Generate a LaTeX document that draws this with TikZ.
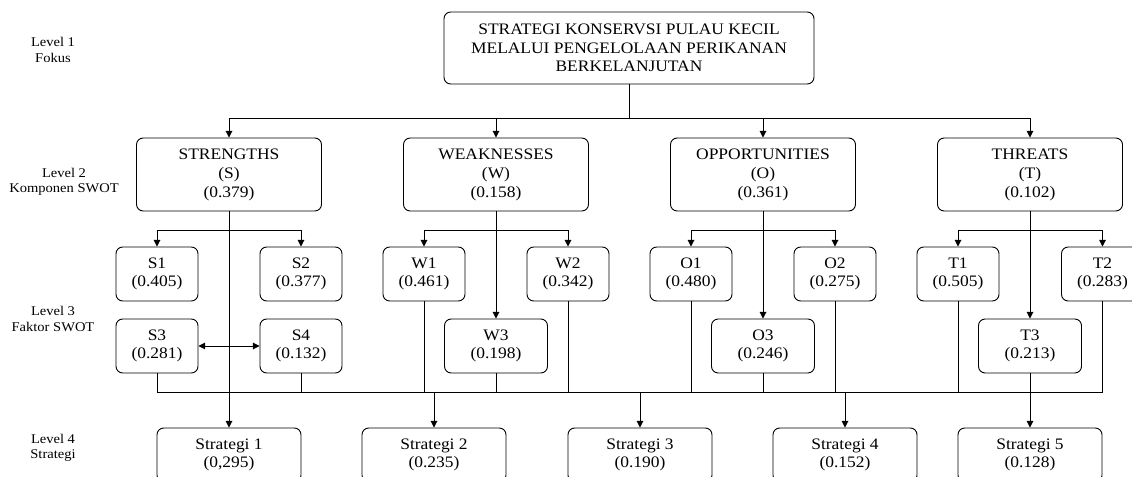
\documentclass[tikz,border=0pt]{standalone}
\usepackage{fontspec}
\setmainfont[FakeStretch=1.09]{Liberation Serif}
\usetikzlibrary{arrows.meta}
\begin{document}
\begin{tikzpicture}[x=0.75pt,y=-0.75pt,line width=0.7pt,
 box/.style={draw,rounded corners=5pt,align=center,inner sep=0pt,font=\fontsize{12}{13.8}\selectfont},
 topbox/.style={box,minimum width=277.5pt,minimum height=54pt},
 swot/.style={box,minimum width=138.75pt,minimum height=54.75pt,font=\fontsize{12}{14.2}\selectfont},
 fac/.style={box,minimum width=61.5pt,minimum height=40.5pt},
 facw/.style={box,minimum width=77.25pt,minimum height=40.5pt},
 strat/.style={box,minimum width=108pt,minimum height=40.5pt},
 lvl/.style={align=center,inner sep=0pt,font=\fontsize{10}{11.5}\selectfont},
 tip/.tip={Triangle[length=5pt,width=5pt]},
 arr/.style={-tip},
 darr/.style={tip-tip}]
\useasboundingbox (0,0) rectangle (1132,477);
% level labels
\node[lvl] (l1) at (53,50) {Level 1\\Fokus};
\node[lvl] (l2) at (64,182) {Level 2\\Komponen SWOT};
\node[lvl] (l3) at (53,319) {Level 3\\Faktor SWOT};
\node[lvl] (l4) at (53,448) {Level 4\\Strategi};
% level 1
\node[topbox] (top) at (629,48) {STRATEGI KONSERVSI PULAU KECIL\\MELALUI PENGELOLAAN PERIKANAN\\BERKELANJUTAN};
% level 2
\node[swot] (S) at (229,174.5) {STRENGTHS\\(S)\\(0.379)};
\node[swot] (W) at (496,174.5) {WEAKNESSES\\(W)\\(0.158)};
\node[swot] (O) at (763,174.5) {OPPORTUNITIES\\(O)\\(0.361)};
\node[swot] (T) at (1030,174.5) {THREATS\\(T)\\(0.102)};
% level 3
\node[fac] (S1) at (157,274) {S1\\(0.405)};
\node[fac] (S2) at (301,274) {S2\\(0.377)};
\node[fac] (S3) at (157,346) {S3\\(0.281)};
\node[fac] (S4) at (301,346) {S4\\(0.132)};
\node[fac] (W1) at (424,274) {W1\\(0.461)};
\node[fac] (W2) at (568,274) {W2\\(0.342)};
\node[facw] (W3) at (496,346) {W3\\(0.198)};
\node[fac] (O1) at (691,274) {O1\\(0.480)};
\node[fac] (O2) at (835,274) {O2\\(0.275)};
\node[facw] (O3) at (763,346) {O3\\(0.246)};
\node[fac] (T1) at (958,274) {T1\\(0.505)};
\node[fac] (T2) at (1102.5,274) {T2\\(0.283)};
\node[facw] (T3) at (1030,346) {T3\\(0.213)};
% level 4
\node[strat] (St1) at (229,455) {Strategi 1\\(0,295)};
\node[strat] (St2) at (434,455) {Strategi 2\\(0.235)};
\node[strat] (St3) at (640,455) {Strategi 3\\(0.190)};
\node[strat] (St4) at (845,455) {Strategi 4\\(0.152)};
\node[strat] (St5) at (1030,455) {Strategi 5\\(0.128)};
% level 1 -> level 2
\coordinate (j0) at (629,118);
\draw (top.south) -- (j0);
\foreach \n in {S,W,O,T} \draw[arr] (j0) -| (\n.north);
% level 2 -> level 3
\coordinate (sj) at (229,230);
\coordinate (wj) at (496,230);
\coordinate (oj) at (763,230);
\coordinate (tj) at (1030,230);
\draw[arr] (S.south) -- (St1.north);
\draw[arr] (sj) -| (S1.north);
\draw[arr] (sj) -| (S2.north);
\draw[darr] (S3.east) -- (S4.west);
\draw[arr] (W.south) -- (W3.north);
\draw[arr] (wj) -| (W1.north);
\draw[arr] (wj) -| (W2.north);
\draw[arr] (O.south) -- (O3.north);
\draw[arr] (oj) -| (O1.north);
\draw[arr] (oj) -| (O2.north);
\draw[arr] (T.south) -- (T3.north);
\draw[arr] (tj) -| (T1.north);
\draw[arr] (tj) -| (T2.north);
% bus
\coordinate (bus) at (157,392);
\coordinate (busR) at (1102.5,392);
\draw (S3.south) |- (busR);
\foreach \n in {S4,W1,W3,W2,O1,O3,O2,T1,T3,T2} \draw (\n.south) -- (\n.south |- bus);
\foreach \n in {St2,St3,St4,St5} \draw[arr] (\n.north |- bus) -- (\n.north);
\end{tikzpicture}
\end{document}
